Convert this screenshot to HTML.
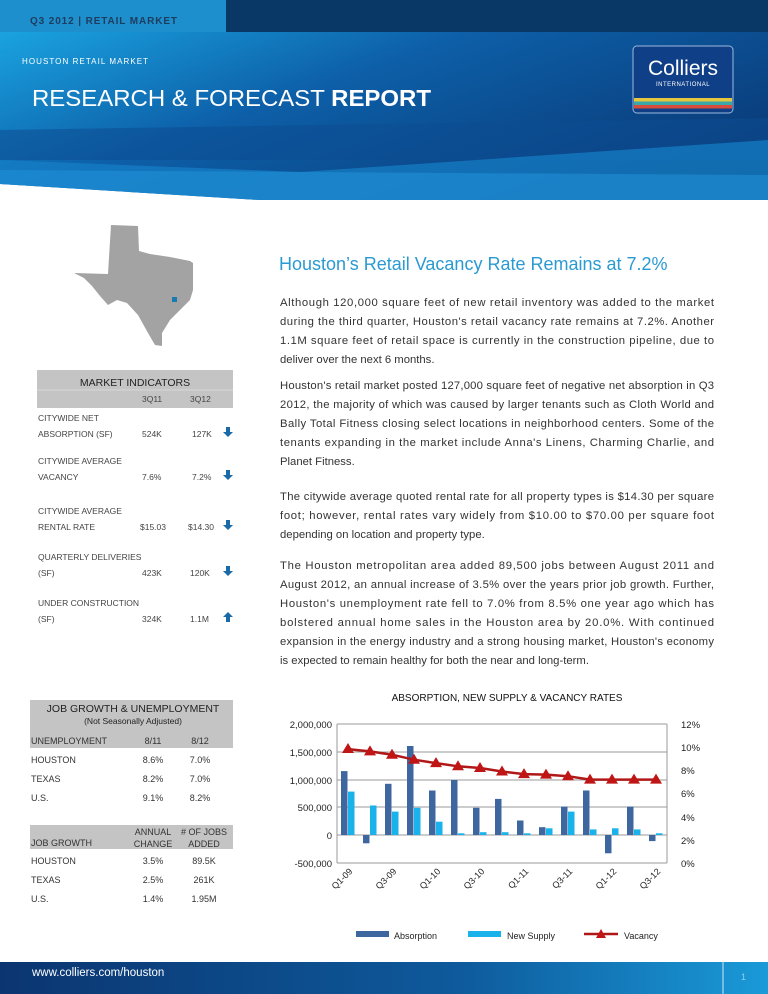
<!DOCTYPE html>
<html><head><meta charset="utf-8"><style>
html,body{margin:0;padding:0;background:#fff}
svg{display:block}
text{font-family:"Liberation Sans",sans-serif}
</style></head><body>
<svg width="768" height="994" viewBox="0 0 768 994" xmlns="http://www.w3.org/2000/svg">
<defs>
<linearGradient id="hg" x1="0" y1="0" x2="1" y2="0.6">
<stop offset="0" stop-color="#1aa3e0"/><stop offset="0.45" stop-color="#0d5fa8"/><stop offset="1" stop-color="#0a3c7a"/>
</linearGradient>
<linearGradient id="fg" x1="0" y1="0" x2="1" y2="0">
<stop offset="0" stop-color="#0b3570"/><stop offset="0.6" stop-color="#0e5a9c"/><stop offset="1" stop-color="#1a9ad8"/>
</linearGradient>
</defs>
<polygon points="0,32 768,32 768,200 260,200 0,184" fill="url(#hg)"/>
<polygon points="0,130 768,118 768,160 0,160" fill="#0d4d92" opacity="0.55"/>
<polygon points="0,160 300,172 768,140 768,200 260,200 0,184" fill="#1580c8" opacity="0.7"/>
<polygon points="0,170 768,175 768,200 260,200 0,184" fill="#1f8fd6" opacity="0.6"/>
<rect x="0" y="0" width="226" height="32" fill="#1d8fcc"/>
<rect x="226" y="0" width="542" height="32" fill="#0a3866"/>
<text x="30" y="24" font-size="10" font-weight="bold" fill="#1e3c5e" textLength="147" lengthAdjust="spacing">Q3 2012  |  RETAIL MARKET</text>
<text x="22" y="64" font-size="8" fill="#fff" textLength="126" lengthAdjust="spacing">HOUSTON RETAIL MARKET</text>
<text x="32" y="106" font-size="23" fill="#fff" textLength="399" lengthAdjust="spacingAndGlyphs">RESEARCH &amp; FORECAST <tspan font-weight="bold">REPORT</tspan></text>
<rect x="633" y="46" width="100" height="67" rx="4" fill="#0f3f86" stroke="#9db8dc" stroke-width="1"/>
<text x="683" y="75" font-size="21" fill="#fff" text-anchor="middle" font-family="Liberation Serif,serif">Colliers</text>
<text x="683" y="86" font-size="6" fill="#fff" text-anchor="middle" letter-spacing="0.5">INTERNATIONAL</text>
<rect x="634" y="98" width="98" height="3.5" fill="#e6c63c"/>
<rect x="634" y="101.5" width="98" height="3.5" fill="#3aa7a8"/>
<rect x="634" y="105" width="98" height="3.5" fill="#d84c3c"/>
<polygon points="111,225 138,226 139,251 150,254 170,257 190,261 193,263 193,290 190,300 180,310 170,320 162,333 162,346 155,345 148,333 138,315 127,303 117,300 108,305 100,296 92,286 84,278 74,273 108,274" fill="#a3a3a3"/>
<rect x="172" y="297" width="5" height="5" fill="#1a7ab0"/>
<text x="279" y="270" font-size="18" fill="#2a9ad2">Houston’s Retail Vacancy Rate Remains at 7.2%</text>
<g font-size="11.3" fill="#333">
<text x="280" y="306" textLength="434" lengthAdjust="spacing">Although 120,000 square feet of new retail inventory was added to the market</text>
<text x="280" y="325" textLength="434" lengthAdjust="spacing">during the third quarter, Houston's retail vacancy rate remains at 7.2%.  Another</text>
<text x="280" y="344" textLength="434" lengthAdjust="spacing">1.1M square feet of retail space is currently in the construction pipeline, due to</text>
<text x="280" y="363">deliver over the next 6 months.</text>
<text x="280" y="389" textLength="434" lengthAdjust="spacing">Houston's retail market posted 127,000 square feet of negative net absorption in Q3</text>
<text x="280" y="408" textLength="434" lengthAdjust="spacing">2012, the majority of which was caused by larger tenants such as Cloth World and</text>
<text x="280" y="427" textLength="434" lengthAdjust="spacing">Bally Total Fitness closing select locations in neighborhood centers. Some of the</text>
<text x="280" y="446" textLength="434" lengthAdjust="spacing">tenants expanding in the market include Anna's Linens, Charming Charlie, and</text>
<text x="280" y="465">Planet Fitness.</text>
<text x="280" y="500" textLength="434" lengthAdjust="spacing">The citywide average quoted rental rate for all property types is $14.30 per square</text>
<text x="280" y="519" textLength="434" lengthAdjust="spacing">foot; however, rental rates vary widely from $10.00 to $70.00 per square foot</text>
<text x="280" y="538">depending on location and property type.</text>
<text x="280" y="569" textLength="434" lengthAdjust="spacing">The Houston metropolitan area added 89,500 jobs between August 2011 and</text>
<text x="280" y="588" textLength="434" lengthAdjust="spacing">August 2012, an annual increase of 3.5% over the years prior job growth.  Further,</text>
<text x="280" y="607" textLength="434" lengthAdjust="spacing">Houston's unemployment rate fell to 7.0% from 8.5% one year ago which has</text>
<text x="280" y="626" textLength="434" lengthAdjust="spacing">bolstered annual home sales in the Houston area by 20.0%.  With continued</text>
<text x="280" y="645" textLength="434" lengthAdjust="spacing">expansion in the energy industry and a strong housing market, Houston's economy</text>
<text x="280" y="664">is expected to remain healthy for both the near and long-term.</text>
</g>
<rect x="37" y="370" width="196" height="38" fill="#c4c4c4"/>
<line x1="37" y1="390" x2="233" y2="390" stroke="#d8d8d8"/>
<text x="135" y="386" font-size="10.5" fill="#222" text-anchor="middle">MARKET INDICATORS</text>
<g font-size="8.5" fill="#444">
<text x="142" y="402">3Q11</text><text x="190" y="402">3Q12</text>
<text x="38" y="421">CITYWIDE NET</text>
<text x="38" y="437">ABSORPTION (SF)</text><text x="142" y="437">524K</text><text x="192" y="437">127K</text>
<text x="38" y="464">CITYWIDE AVERAGE</text>
<text x="38" y="480">VACANCY</text><text x="142" y="480">7.6%</text><text x="192" y="480">7.2%</text>
<text x="38" y="514">CITYWIDE AVERAGE</text>
<text x="38" y="530">RENTAL RATE</text><text x="140" y="530">$15.03</text><text x="188" y="530">$14.30</text>
<text x="38" y="560">QUARTERLY DELIVERIES</text>
<text x="38" y="576">(SF)</text><text x="142" y="576">423K</text><text x="190" y="576">120K</text>
<text x="38" y="606">UNDER CONSTRUCTION</text>
<text x="38" y="622">(SF)</text><text x="142" y="622">324K</text><text x="190" y="622">1.1M</text>
</g>
<g fill="#1a6aa8">
<path d="M226,427h4v5h3l-5,5l-5,-5h3z"/>
<path d="M226,470h4v5h3l-5,5l-5,-5h3z"/>
<path d="M226,520h4v5h3l-5,5l-5,-5h3z"/>
<path d="M226,566h4v5h3l-5,5l-5,-5h3z"/>
<path d="M226,622h4v-5h3l-5,-5l-5,5h3z"/>
</g>
<rect x="30" y="700" width="203" height="48" fill="#c4c4c4"/>
<text x="133" y="712" font-size="10.5" fill="#222" text-anchor="middle">JOB GROWTH &amp; UNEMPLOYMENT</text>
<text x="133" y="724" font-size="8.5" fill="#222" text-anchor="middle">(Not Seasonally Adjusted)</text>
<g font-size="9" fill="#333">
<text x="31" y="744">UNEMPLOYMENT</text><text x="153" y="744" text-anchor="middle">8/11</text><text x="200" y="744" text-anchor="middle">8/12</text>
<text x="31" y="763">HOUSTON</text><text x="153" y="763" text-anchor="middle">8.6%</text><text x="200" y="763" text-anchor="middle">7.0%</text>
<text x="31" y="782">TEXAS</text><text x="153" y="782" text-anchor="middle">8.2%</text><text x="200" y="782" text-anchor="middle">7.0%</text>
<text x="31" y="801">U.S.</text><text x="153" y="801" text-anchor="middle">9.1%</text><text x="200" y="801" text-anchor="middle">8.2%</text>
</g>
<rect x="30" y="825" width="203" height="24" fill="#c4c4c4"/>
<g font-size="9" fill="#333">
<text x="31" y="846">JOB GROWTH</text>
<text x="153" y="835" text-anchor="middle">ANNUAL</text><text x="153" y="847" text-anchor="middle">CHANGE</text>
<text x="204" y="835" text-anchor="middle"># OF JOBS</text><text x="204" y="847" text-anchor="middle">ADDED</text>
<text x="31" y="864">HOUSTON</text><text x="153" y="864" text-anchor="middle">3.5%</text><text x="204" y="864" text-anchor="middle">89.5K</text>
<text x="31" y="883">TEXAS</text><text x="153" y="883" text-anchor="middle">2.5%</text><text x="204" y="883" text-anchor="middle">261K</text>
<text x="31" y="902">U.S.</text><text x="153" y="902" text-anchor="middle">1.4%</text><text x="204" y="902" text-anchor="middle">1.95M</text>
</g>
<text x="507" y="701" font-size="10" fill="#111" text-anchor="middle">ABSORPTION, NEW SUPPLY &amp; VACANCY RATES</text>
<g stroke="#9a9a9a" stroke-width="1">
<line x1="337" y1="724" x2="667" y2="724"/><line x1="337" y1="752" x2="667" y2="752"/>
<line x1="337" y1="780" x2="667" y2="780"/><line x1="337" y1="807" x2="667" y2="807"/>
<line x1="337" y1="835" x2="667" y2="835"/><line x1="337" y1="863" x2="667" y2="863"/>
<line x1="337" y1="724" x2="337" y2="863"/><line x1="667" y1="724" x2="667" y2="863"/>
</g>
<g font-size="9.5" fill="#222" text-anchor="end">
<text x="332" y="728">2,000,000</text><text x="332" y="756">1,500,000</text><text x="332" y="784">1,000,000</text>
<text x="332" y="811">500,000</text><text x="332" y="839">0</text><text x="332" y="867">-500,000</text>
</g>
<g font-size="9.5" fill="#222">
<text x="681" y="728">12%</text><text x="681" y="751">10%</text><text x="681" y="774">8%</text>
<text x="681" y="797">6%</text><text x="681" y="821">4%</text><text x="681" y="844">2%</text><text x="681" y="867">0%</text>
</g>
<g fill="#3e67a0">
<rect x="341" y="771.1" width="6.5" height="63.9"/>
<rect x="363" y="835" width="6.5" height="8.3"/>
<rect x="385" y="783.8" width="6.5" height="51.2"/>
<rect x="407" y="746" width="6.5" height="89"/>
<rect x="429" y="790.5" width="6.5" height="44.5"/>
<rect x="451" y="780" width="6.5" height="55"/>
<rect x="473" y="807.8" width="6.5" height="27.2"/>
<rect x="495" y="798.9" width="6.5" height="36.1"/>
<rect x="517" y="820.5" width="6.5" height="14.5"/>
<rect x="539" y="827.2" width="6.5" height="7.8"/>
<rect x="561" y="806.6" width="6.5" height="28.4"/>
<rect x="583" y="790.5" width="6.5" height="44.5"/>
<rect x="605" y="835" width="6.5" height="18.3"/>
<rect x="627" y="806.6" width="6.5" height="28.4"/>
<rect x="649" y="835" width="6.5" height="6.1"/>
</g>
<g fill="#1ab2ea">
<rect x="348" y="791.6" width="6.5" height="43.4"/>
<rect x="370" y="805.5" width="6.5" height="29.5"/>
<rect x="392" y="811.6" width="6.5" height="23.4"/>
<rect x="414" y="807.8" width="6.5" height="27.2"/>
<rect x="436" y="821.7" width="6.5" height="13.3"/>
<rect x="458" y="833.3" width="6.5" height="1.7"/>
<rect x="480" y="832.2" width="6.5" height="2.8"/>
<rect x="502" y="832.2" width="6.5" height="2.8"/>
<rect x="524" y="833.3" width="6.5" height="1.7"/>
<rect x="546" y="828.3" width="6.5" height="6.7"/>
<rect x="568" y="811.6" width="6.5" height="23.4"/>
<rect x="590" y="829.4" width="6.5" height="5.6"/>
<rect x="612" y="828.3" width="6.5" height="6.7"/>
<rect x="634" y="829.4" width="6.5" height="5.6"/>
<rect x="656" y="833.3" width="6.5" height="1.7"/>
</g>
<polyline points="348,749.1 370,751.4 392,754.7 414,759.7 436,763.1 458,766.3 480,768 502,771.5 524,774.1 546,774.6 568,776.2 590,779.6 612,779.6 634,779.6 656,779.6" fill="none" stroke="#b01818" stroke-width="2.5"/>
<g fill="#c01515">
<polygon points="348,743 354,753 342,753"/><polygon points="370,745.4 376,755.4 364,755.4"/>
<polygon points="392,748.7 398,758.7 386,758.7"/><polygon points="414,753.7 420,763.7 408,763.7"/>
<polygon points="436,757.1 442,767.1 430,767.1"/><polygon points="458,760.3 464,770.3 452,770.3"/>
<polygon points="480,762 486,772 474,772"/><polygon points="502,765.5 508,775.5 496,775.5"/>
<polygon points="524,768.1 530,778.1 518,778.1"/><polygon points="546,768.6 552,778.6 540,778.6"/>
<polygon points="568,770.2 574,780.2 562,780.2"/><polygon points="590,773.6 596,783.6 584,783.6"/>
<polygon points="612,773.6 618,783.6 606,783.6"/><polygon points="634,773.6 640,783.6 628,783.6"/>
<polygon points="656,773.6 662,783.6 650,783.6"/>
</g>
<g font-size="9" fill="#222" text-anchor="end">
<text transform="translate(353,872) rotate(-45)">Q1-09</text>
<text transform="translate(397,872) rotate(-45)">Q3-09</text>
<text transform="translate(441,872) rotate(-45)">Q1-10</text>
<text transform="translate(485,872) rotate(-45)">Q3-10</text>
<text transform="translate(529,872) rotate(-45)">Q1-11</text>
<text transform="translate(573,872) rotate(-45)">Q3-11</text>
<text transform="translate(617,872) rotate(-45)">Q1-12</text>
<text transform="translate(661,872) rotate(-45)">Q3-12</text>
</g>
<rect x="356" y="931" width="33" height="6" fill="#3e67a0"/>
<text x="394" y="939" font-size="9" fill="#222">Absorption</text>
<rect x="468" y="931" width="33" height="6" fill="#1ab2ea"/>
<text x="507" y="939" font-size="9" fill="#222">New Supply</text>
<line x1="584" y1="934" x2="618" y2="934" stroke="#b01818" stroke-width="2.5"/>
<polygon points="601,929 606,938 596,938" fill="#c01515"/>
<text x="624" y="939" font-size="9" fill="#222">Vacancy</text>
<rect x="0" y="962" width="768" height="32" fill="url(#fg)"/>
<line x1="723" y1="962" x2="723" y2="994" stroke="#cfe6f5" stroke-width="1"/>
<text x="32" y="976" font-size="11.5" fill="#fff">www.colliers.com/houston</text>
<text x="741" y="980" font-size="9" fill="#8fd0f0">1</text>
</svg>
</body></html>
